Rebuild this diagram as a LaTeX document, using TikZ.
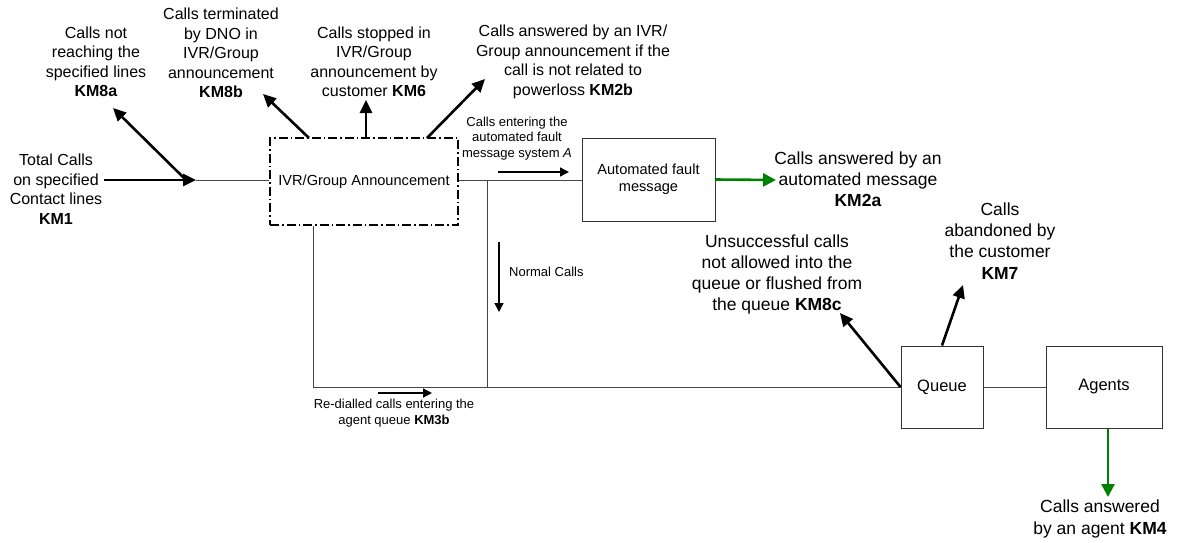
\documentclass[tikz,border=0pt]{standalone}
\usepackage{fontspec}
\setmainfont{Liberation Sans}
\usetikzlibrary{arrows.meta,calc}
\definecolor{okgreen}{RGB}{0,128,0}
\definecolor{thinline}{RGB}{70,70,70}
\tikzset{
  big/.style={align=center,inner sep=0pt,font=\fontsize{16}{19.5}\selectfont},
  bigr/.style={align=center,inner sep=0pt,font=\fontsize{17.5}{21.2}\selectfont},
  small/.style={align=center,inner sep=0pt,font=\fontsize{13}{15.7}\selectfont},
  box/.style={draw=black!80,line width=1pt,inner sep=0pt,align=center},
  thin/.style={draw=thinline,line width=1pt},
  thick arrow/.style={line width=2.6pt,-{Triangle[length=13pt,width=12pt]}},
  green arrow/.style={draw=okgreen,line width=2.6pt,-{Triangle[length=13pt,width=13pt]},color=okgreen},
  small arrow/.style={line width=1.4pt,-{Triangle[length=9pt,width=9pt]}},
}
\begin{document}
\begin{tikzpicture}[x=1pt,y=-1pt]
\useasboundingbox (0,0) rectangle (1184,542);
% boxes
\node[box,draw=black,line width=1.5pt,dash pattern=on 9pt off 3pt on 1.5pt off 3pt,minimum width=188pt,minimum height=87pt,font=\fontsize{14.6}{17}\selectfont] (ivr) at (364,181.5) {IVR/Group Announcement};
\node[box,minimum width=133pt,minimum height=83pt,font=\fontsize{14.6}{17}\selectfont] (afm) at (648.5,179.5) {Automated fault\\message};
\node[box,minimum width=82pt,minimum height=82pt,font=\fontsize{16.5}{19}\selectfont] (queue) at (942,387) {Queue};
\node[box,minimum width=116pt,minimum height=82pt,font=\fontsize{16.5}{19}\selectfont] (agents) at (1104,387) {Agents};
% texts
\node[big] (km8a) at (96,62) {Calls not\\reaching the\\specified lines\\\textbf{KM8a}};
\node[big] (km8b) at (221,53) {Calls terminated\\by DNO in\\IVR/Group\\announcement\\\textbf{KM8b}};
\node[big] (km6) at (374,62) {Calls stopped in\\IVR/Group\\announcement by\\customer \textbf{KM6}};
\node[big] (km2b) at (573,62) {Calls answered by an IVR/\\Group announcement if the\\call is not related to\\powerloss \textbf{KM2b}};
\node[big] (km1) at (56,189) {Total Calls\\on specified\\Contact lines\\\textbf{KM1}};
\node[small] (ent) at (517,138.5) {Calls entering the\\automated fault\\message system \textit{A}};
\node[small,anchor=west] (norm) at (509,272) {Normal Calls};
\node[small] (redial) at (394,413) {Re-dialled calls entering the\\agent queue \textbf{KM3b}};
\node[bigr] (km2a) at (858,179) {Calls answered by an\\automated message\\\textbf{KM2a}};
\node[bigr] (km8c) at (777,274.5) {Unsuccessful calls\\not allowed into the\\queue or flushed from\\the queue \textbf{KM8c}};
\node[bigr] (km7) at (1000,241) {Calls\\abandoned by\\the customer\\\textbf{KM7}};
\node[bigr] (km4) at (1100,519) {Calls answered\\by an agent \textbf{KM4}};
% coordinates
\coordinate (j1) at (196,180);
\coordinate (j2) at (487,180);
\coordinate (j3) at (487,387);
\coordinate (j4) at (313,387);
\coordinate (s8a) at (184,178);
\coordinate (t8a) at (113,108);
\coordinate (s8b) at (309,138);
\coordinate (t8b) at (263,94);
\coordinate (s6) at (366,138);
\coordinate (t6) at (366,100);
\coordinate (s2b) at (427,138);
\coordinate (t2b) at (485,79);
\coordinate (t7) at (963,285);
\coordinate (t8c) at (840,313);
\coordinate (t4) at (1108,497);
\coordinate (t2a) at (776,180);
\coordinate (ea1) at (498,172);
\coordinate (ea2) at (569,172);
\coordinate (na1) at (499,242);
\coordinate (na2) at (499,312);
\coordinate (ra1) at (378,393);
\coordinate (ra2) at (432,393);
% thin connectors
\draw[thin] (j1) -- (ivr.west |- j1);
\draw[thin] (ivr.east |- j2) -- (afm.west |- j2);
\draw[thin] (j2) -- (j3);
\draw[thin] (ivr.south -| j4) -- (j4) -- (queue.west);
\draw[thin] (queue.east) -- (agents.west);
% thick black arrows
\draw[thick arrow] (km1.east |- j1) ++(2,0) -- (j1);
\draw[thick arrow] (s8a) -- (t8a);
\draw[thick arrow] (s8b) -- (t8b);
\draw[thick arrow] (s6) -- (t6);
\draw[thick arrow] (s2b) -- (t2b);
\draw[thick arrow] (queue.north) -- (t7);
\draw[thick arrow] (queue.west) -- (t8c);
% green arrows
\draw[green arrow] (afm.east) -- (t2a);
\draw[green arrow] (agents.south -| t4) -- (t4);
% small arrows
\draw[small arrow] (ea1) -- (ea2);
\draw[small arrow] (na1) -- (na2);
\draw[small arrow] (ra1) -- (ra2);
\end{tikzpicture}
\end{document}
